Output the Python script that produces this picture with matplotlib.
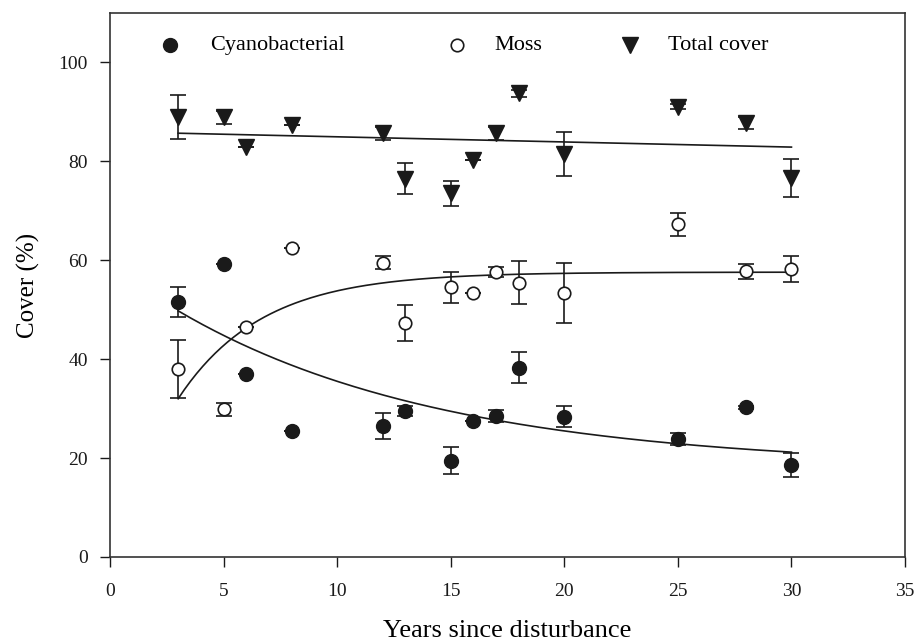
import matplotlib
matplotlib.use("Agg")
import matplotlib.pyplot as plt
import numpy as np

plt.rcParams['font.family'] = ['Liberation Serif', 'DejaVu Serif']

# years since disturbance
years = [3, 5, 6, 8, 12, 13, 15, 16, 17, 18, 20, 25, 28, 30]

cyano = [51.6, 59.3, 37.1, 25.4, 26.5, 29.6, 19.5, 27.4, 28.5, 38.3, 28.4, 23.9, 30.3, 18.6]
cyano_err = [3.0, 0, 0, 0, 2.7, 1.0, 2.7, 0, 1.3, 3.2, 2.2, 1.2, 0.3, 2.4]

moss = [38.0, 29.9, 46.5, 62.5, 59.5, 47.3, 54.5, 53.3, 57.6, 55.5, 53.4, 67.3, 57.8, 58.3]
moss_err = [5.8, 1.3, 0, 0, 1.3, 3.6, 3.1, 0, 1.0, 4.4, 6.0, 2.3, 1.5, 2.6]

total = [89.0, 88.9, 82.9, 87.3, 85.7, 76.5, 73.5, 80.3, 85.7, 93.8, 81.5, 91.0, 87.7, 76.6]
total_err = [4.4, 1.3, 0, 0, 1.3, 3.2, 2.5, 0, 1.3, 0.7, 4.4, 0.5, 1.2, 3.8]

# fitted curves (parameters)
cyano_fit = (18.0, 41.0, 0.085)    # y0 + a*exp(-b*x)
moss_fit = (57.6, 25.6, 0.273, 3)  # A - a*exp(-b*(x-x0))
total_fit = (86.0, -0.104)         # intercept, slope

col = '#1a1a1a'
fig = plt.figure(figsize=(9.19, 6.42), dpi=100)
ax = fig.add_axes([0.1197, 0.1324, 0.8651, 0.8474])

xf = np.linspace(3, 30, 200)
ax.plot(xf, cyano_fit[0] + cyano_fit[1]*np.exp(-cyano_fit[2]*xf), color=col, lw=1.2)
ax.plot(xf, moss_fit[0] - moss_fit[1]*np.exp(-moss_fit[2]*(xf - moss_fit[3])), color=col, lw=1.2)
ax.plot(xf, total_fit[0] + total_fit[1]*xf, color=col, lw=1.2)

ekw = dict(ecolor=col, elinewidth=1.2, capsize=6, capthick=1.2, ls='none')
ax.errorbar(years, total, yerr=total_err, marker='v', ms=11, mfc=col, mec=col, **ekw)
ax.errorbar(years, cyano, yerr=cyano_err, marker='o', ms=10, mfc=col, mec=col, **ekw)
ax.errorbar(years, moss, yerr=moss_err, marker='o', ms=9, mfc='white', mec=col, mew=1.2, **ekw)

# legend across the top
ly = 0.941
ax.plot([0.0755], [ly], 'o', ms=10, color=col, transform=ax.transAxes)
ax.text(0.126, ly, 'Cyanobacterial', fontsize=16, va='center', transform=ax.transAxes)
ax.plot([0.4365], [ly], 'o', ms=9, mfc='white', mec=col, mew=1.2, transform=ax.transAxes)
ax.text(0.484, ly, 'Moss', fontsize=16, va='center', transform=ax.transAxes)
ax.plot([0.654], [ly], 'v', ms=11, color=col, transform=ax.transAxes)
ax.text(0.702, ly, 'Total cover', fontsize=16, va='center', transform=ax.transAxes)

ax.set_xlim(0, 35)
ax.set_ylim(0, 110)
ax.set_xticks(range(0, 36, 5))
ax.set_yticks(range(0, 101, 20))
ax.tick_params(direction='out', length=7, width=1, labelsize=14, pad=9, colors=col)
ax.tick_params(axis='x', pad=12)
for s in ax.spines.values():
    s.set_linewidth(1.2)
    s.set_color('#333333')

ax.set_xlabel('Years since disturbance', fontsize=19, labelpad=14)
ax.set_ylabel('Cover (%)', fontsize=18, labelpad=13)

fig.savefig('out.png', dpi=100)
